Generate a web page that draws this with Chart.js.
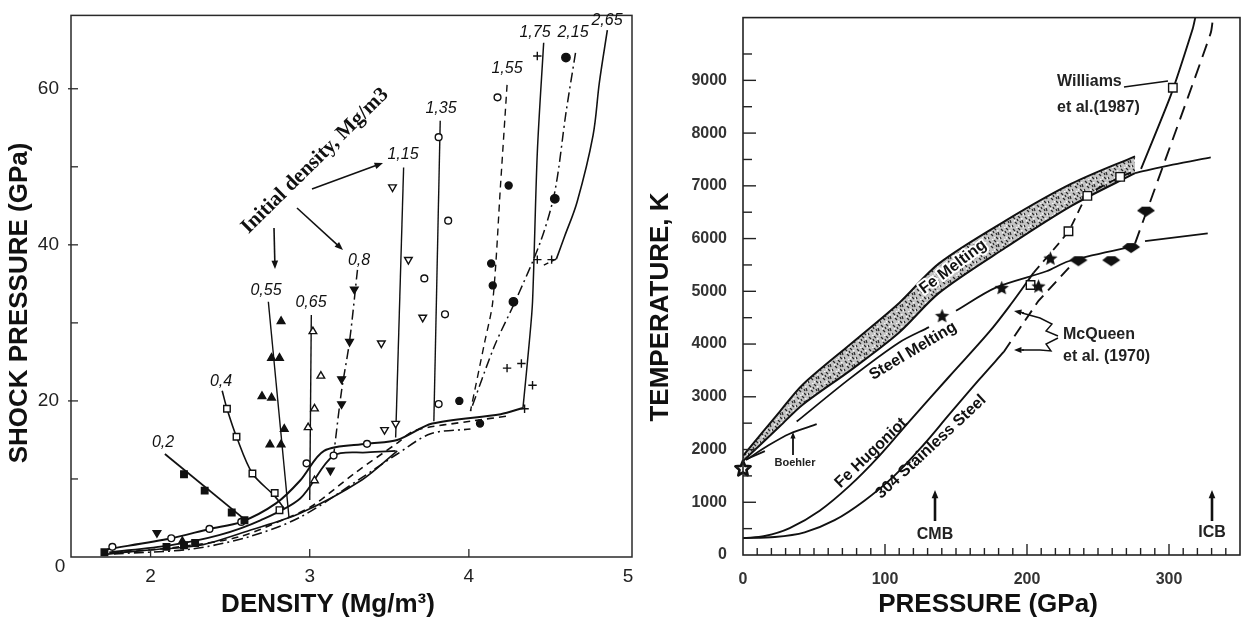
<!DOCTYPE html>
<html>
<head>
<meta charset="utf-8">
<title>Shock pressure / melting curves</title>
<script src="https://cdn.jsdelivr.net/npm/chart.js@4.4.1/dist/chart.umd.min.js"></script>
<style>
  html, body { margin: 0; padding: 0; background: #fff; }
  #wrap { position: relative; width: 1249px; height: 619px; overflow: hidden; }
  #left { position: absolute; left: 0; top: 0; width: 640px; height: 619px; }
  #right { position: absolute; left: 640px; top: 0; width: 609px; height: 619px; }
</style>
</head>
<body>
<div id="wrap">
  <div id="left"><canvas id="c1"></canvas></div>
  <div id="right"><canvas id="c2"></canvas></div>
</div>
<script>
// ---- left panel: porous Hugoniots, density (Mg/m3) vs shock pressure (GPa)
const leftXTicks = [2, 3, 4, 5];
const leftYTicks = [10, 20, 30, 40, 50, 60];

const hug02 = [[2.09, 13.2], [2.61, 4.5]];
const hug04 = [[2.45, 21.3], [2.48, 19.0], [2.54, 15.4], [2.64, 10.7], [2.78, 7.8], [2.84, 6.2]];
const hug055 = [[2.74, 32.7], [2.87, 5.0]];
const hug065 = [[3.01, 31.0], [3.00, 7.3]];
const hug08 = [[3.30, 36.8], [3.25, 27.6], [3.20, 21.3], [3.15, 13.0]];
const hug115 = [[3.59, 49.9], [3.54, 15.3]];
const hug135 = [[3.82, 55.9], [3.78, 17.4]];
const hug155 = [[4.24, 60.5], [4.20, 48.0], [4.15, 32.7], [4.10, 27.6], [4.01, 18.7]];
const hug175 = [[4.47, 65.9], [4.43, 51.8], [4.40, 32.7], [4.38, 27.6], [4.34, 19.1]];
const hug215 = [[4.67, 64.6], [4.61, 56.9], [4.54, 46.8], [4.45, 40.4], [4.29, 32.7], [4.16, 27.0], [4.01, 18.7]];
const hug265 = [[4.87, 67.5], [4.82, 60.8], [4.78, 54.0], [4.68, 45.5], [4.60, 41.0], [4.55, 38.2]];
const hug265step = [[4.55, 38.2], [4.45, 37.2]];
const lowA = [[1.73, 1.0], [2.13, 2.4], [2.37, 3.6], [2.57, 4.5], [2.79, 6.9], [2.94, 9.8], [3.09, 13.6],
              [3.36, 14.5], [3.55, 15.0], [3.77, 17.1], [4.20, 18.3], [4.34, 19.1]];
const lowB = [[1.74, 0.6], [2.12, 1.5], [2.43, 2.8], [2.69, 4.7], [2.94, 7.5], [3.15, 13.0], [3.36, 13.4], [3.54, 13.6]];
const lowC = [[1.76, 0.5], [2.18, 1.3], [2.56, 2.6], [2.87, 5.1], [3.02, 6.6], [3.28, 10.7], [3.55, 14.6],
              [3.66, 16.2], [4.01, 17.4], [4.26, 18.1]];
const lowD = [[1.77, 0.4], [2.25, 1.0], [2.62, 2.6], [2.94, 5.1], [3.33, 10.2], [3.55, 13.2], [3.76, 15.8], [4.01, 16.4]];
const lowE = [[1.70, 0.3], [1.99, 0.9], [2.31, 1.5], [2.62, 3.4], [2.94, 5.6], [3.33, 9.9], [3.55, 13.6]];

const sqFilled = [[2.21, 10.6], [2.34, 8.5], [2.51, 5.7], [2.59, 4.7], [1.71, 0.6], [2.10, 1.3], [2.21, 1.5], [2.28, 1.8]];
const sqOpen = [[2.48, 19.0], [2.54, 15.4], [2.64, 10.7], [2.78, 8.2], [2.81, 6.0]];
const circOpenLow = [[1.76, 1.3], [2.13, 2.4], [2.37, 3.6], [2.57, 4.5], [2.98, 12.0], [3.36, 14.5], [3.15, 13.0]];
const triFilled = [[2.82, 30.2], [2.76, 25.5], [2.81, 25.5], [2.70, 20.6], [2.76, 20.4], [2.84, 16.4], [2.75, 14.4], [2.82, 14.4], [2.20, 2.0]];
const triOpen = [[3.02, 28.9], [3.07, 23.2], [3.03, 19.0], [2.99, 16.6], [3.03, 9.8]];
const triDownFilled = [[3.28, 34.3], [3.25, 27.6], [3.20, 22.8], [3.20, 19.6], [2.04, 3.1], [3.13, 11.1]];
const triDownOpen = [[3.52, 47.4], [3.62, 38.1], [3.45, 27.4], [3.47, 16.3], [3.54, 17.1], [3.71, 30.7]];
const circOpen135 = [[3.81, 53.8], [3.87, 43.1], [3.72, 35.7], [3.85, 31.1], [3.81, 19.6], [4.18, 58.9]];
const dots155 = [[4.25, 47.6], [4.14, 37.6], [4.15, 34.8], [3.94, 20.0], [4.07, 17.1]];
const plus175 = [[4.43, 64.2], [4.24, 24.2], [4.33, 24.8], [4.40, 22.0], [4.35, 19.0], [4.43, 38.1], [4.52, 38.1]];
const dots215 = [[4.61, 64.0], [4.54, 45.9], [4.28, 32.7]];

// ---- right panel: pressure (GPa) vs temperature (K)
const rightXLabels = [0, 100, 200, 300];
const rightYTicks = [0, 500, 1000, 1500, 2000, 2500, 3000, 3500, 4000, 4500, 5000,
                     5500, 6000, 6500, 7000, 7500, 8000, 8500, 9000, 9500];

const feMeltTop = [[0, 1880], [25.9, 2720], [42.0, 3230], [77.1, 4030], [110.0, 4780], [138.1, 5530], [185.0, 6340], [231.3, 7040], [276.1, 7560]];
const feMeltBottom = [[0, 1780], [25.9, 2440], [42.0, 2850], [77.1, 3530], [110.0, 4220], [138.1, 4970], [185.0, 5830], [231.3, 6620], [276.1, 7240]];
const feMeltTail = [[276.1, 7240], [302.7, 7400], [329.4, 7540]];
const steelMeltA = [[2.8, 1820], [15.4, 1970]];
const steelMeltB = [[37.8, 2530], [75.0, 3340], [110.0, 4030], [131.0, 4320]];
const steelMeltC = [[150.0, 4630], [178.0, 5070], [213.7, 5380], [229.2, 5570], [274.7, 5850]];
const steelMeltD = [[283.1, 5950], [327.3, 6100]];
const boehler = [[2.0, 1800], [18.0, 2080], [32.9, 2300], [51.9, 2480]];
const feHug = [[0, 320], [15.4, 360], [32.9, 510], [54.0, 840], [75.0, 1310], [96.0, 1880], [117.0, 2530],
               [145.1, 3380], [173.1, 4220], [188.5, 4750], [204.6, 5350]];
const feHugWilliams = [[204.6, 5350], [229.2, 6140], [242.5, 6810], [265.6, 7170], [276.1, 7280]];
const feLiquid = [[280.3, 7320], [301.3, 8720], [316.7, 9980], [318.5, 10190]];
const ss304 = [[0, 320], [22.4, 340], [43.4, 430], [64.5, 660], [85.5, 1030], [106.5, 1500], [127.5, 2100],
               [145.1, 2660], [166.1, 3320], [183.6, 3850]];
const ss304Dash = [[183.6, 3850], [208.1, 4820], [230.6, 5480]];
const ss304Liquid = [[276.1, 5910], [297.1, 7470], [329.4, 9900], [331.0, 10190]];
const starPts = [[140.2, 4540], [182.2, 5070], [208.1, 5100], [216.5, 5630]];
const bigStar = [[0, 1650]];
const housePts = [[236.2, 5570], [259.3, 5570], [273.3, 5820], [283.8, 6510]];
const williamsSq = [[202.5, 5120], [229.2, 6140], [242.5, 6810], [265.6, 7170], [302.7, 8860]];

const densityLabels = ['0,2', '0,4', '0,55', '0,65', '0,8', '1,15', '1,35', '1,55', '1,75', '2,15', '2,65'];

const INK = '#111';
const FONT = '"Liberation Sans", Arial, Helvetica, sans-serif';

const pts = a => a.map(p => ({x: p[0], y: p[1]}));

function line(d, dash, w, tension) {
    return {data: pts(d), showLine: true, borderColor: INK, borderWidth: w || 1.6,
            borderDash: dash || [], pointRadius: 0, fill: false, tension: tension || 0};
}
function marks(d, style, filled, r, rot) {
    return {data: pts(d), showLine: false, pointStyle: style, pointRadius: r, pointRotation: rot || 0,
            backgroundColor: filled ? INK : '#fff', borderColor: INK, borderWidth: 1.4};
}

function starImg(r, fill, lw) {
    var s = Math.ceil(2 * r + 2 * lw + 4);
    var c = document.createElement('canvas');
    c.width = c.height = s;
    var g = c.getContext('2d');
    g.translate(s / 2, s / 2 + r * 0.1);
    g.beginPath();
    for (var i = 0; i < 10; i++) {
        var ang = -Math.PI / 2 + i * Math.PI / 5;
        var rr = i % 2 ? r * 0.45 : r;
        g.lineTo(rr * Math.cos(ang), rr * Math.sin(ang));
    }
    g.closePath();
    g.fillStyle = fill;
    g.fill();
    if (lw) { g.lineWidth = lw; g.strokeStyle = INK; g.lineJoin = 'round'; g.stroke(); }
    return c;
}
function houseImg() {
    var c = document.createElement('canvas');
    c.width = 20; c.height = 12;
    var g = c.getContext('2d');
    g.beginPath();
    g.moveTo(1, 5); g.lineTo(6, 1); g.lineTo(14, 1); g.lineTo(19, 5); g.lineTo(10, 11);
    g.closePath();
    g.fillStyle = INK;
    g.fill();
    return c;
}
function speckle() {
    var c = document.createElement('canvas');
    c.width = 12; c.height = 12;
    var g = c.getContext('2d');
    g.fillStyle = '#c4c4c4';
    g.fillRect(0, 0, 12, 12);
    g.strokeStyle = '#2a2a2a';
    g.lineWidth = 1.2;
    [[1, 1, 3, 3], [6, 0, 8, 2], [10, 4, 11, 7], [3, 6, 5, 8], [8, 9, 10, 11], [0, 9, 1, 11], [5, 3, 6, 5], [8, 5, 9, 7]].forEach(function (m) {
        g.beginPath(); g.moveTo(m[0], m[1]); g.lineTo(m[2], m[3]); g.stroke();
    });
    g.fillStyle = '#f4f4f4';
    [[2, 4], [9, 2], [6, 9], [11, 10], [4, 11]].forEach(function (m) { g.fillRect(m[0], m[1], 1.5, 1.5); });
    return g.createPattern(c, 'repeat');
}

function seg(ctx, x1, y1, x2, y2) {
    ctx.beginPath(); ctx.moveTo(x1, y1); ctx.lineTo(x2, y2); ctx.stroke();
}
function arrow(ctx, x1, y1, x2, y2, head, lw) {
    var ang = Math.atan2(y2 - y1, x2 - x1);
    ctx.lineWidth = lw;
    seg(ctx, x1, y1, x2 - Math.cos(ang) * head * 0.6, y2 - Math.sin(ang) * head * 0.6);
    ctx.beginPath();
    ctx.moveTo(x2, y2);
    ctx.lineTo(x2 - head * Math.cos(ang - 0.38), y2 - head * Math.sin(ang - 0.38));
    ctx.lineTo(x2 - head * Math.cos(ang + 0.38), y2 - head * Math.sin(ang + 0.38));
    ctx.closePath();
    ctx.fill();
}
function rotText(ctx, txt, x, y, deg) {
    ctx.save(); ctx.translate(x, y); ctx.rotate(deg * Math.PI / 180); ctx.fillText(txt, 0, 0); ctx.restore();
}
function useTicks(list) {
    return function (s) { s.ticks = list.map(function (v) { return {value: v}; }); };
}

// label anchors in page pixels for the density captions
const densityAt = [[163, 443], [221, 382], [266, 291], [311, 303], [359, 261], [403, 155], [441, 109], [507, 69], [535, 33], [573, 33], [607, 21]];

const leftDecor = {
    id: 'leftDecor',
    afterDraw: function (chart) {
        var ctx = chart.ctx, a = chart.chartArea, x = chart.scales.x, y = chart.scales.y;
        ctx.save();
        ctx.strokeStyle = '#2a2a2a';
        ctx.lineWidth = 1.5;
        ctx.strokeRect(a.left, a.top, a.right - a.left, a.bottom - a.top);
        ctx.lineWidth = 1.3;
        y.ticks.forEach(function (t) {
            var p = y.getPixelForValue(t.value);
            var major = t.value % 20 === 0;
            seg(ctx, a.left - (major ? 3 : 0), p, a.left + 7, p);
        });
        x.ticks.forEach(function (t) {
            var p = x.getPixelForValue(t.value);
            if (p > a.right - 6) return;
            seg(ctx, p, a.bottom, p, a.bottom - 8);
        });
        ctx.fillStyle = INK;
        ctx.textAlign = 'center';
        ctx.textBaseline = 'middle';
        ctx.font = 'bold 26px ' + FONT;
        rotText(ctx, 'SHOCK PRESSURE (GPa)', 20, 303, -90);
        ctx.fillText('DENSITY (Mg/m\u00b3)', 328, 605);
        ctx.font = '19px ' + FONT;
        ctx.fillStyle = '#222';
        ctx.fillText('0', 60, 567);

        ctx.fillStyle = INK;
        ctx.font = 'italic 16px ' + FONT;
        densityLabels.forEach(function (s, i) {
            ctx.fillText(s, densityAt[i][0], densityAt[i][1]);
        });
        ctx.font = 'bold 21px "Liberation Serif", "Times New Roman", serif';
        rotText(ctx, 'Initial density, Mg/m3', 315, 161, -44.6);
        ctx.strokeStyle = INK;
        arrow(ctx, 274, 228, 275, 269, 9, 1.6);
        arrow(ctx, 297, 208, 343, 250, 9, 1.6);
        arrow(ctx, 312, 189, 383, 163, 9, 1.6);
        ctx.restore();
    }
};

const rightDecor = {
    id: 'rightDecor',
    afterDraw: function (chart) {
        var ctx = chart.ctx, a = chart.chartArea, x = chart.scales.x, y = chart.scales.y;
        var ox = 640;
        ctx.save();
        ctx.strokeStyle = '#222';
        ctx.lineWidth = 1.6;
        ctx.strokeRect(a.left, a.top, a.right - a.left, a.bottom - a.top);
        ctx.lineWidth = 1.4;
        y.ticks.forEach(function (t) {
            if (t.value <= 0) return;
            var p = y.getPixelForValue(t.value);
            seg(ctx, a.left, p, a.left + (t.value % 1000 === 0 ? 13 : 9), p);
        });
        x.ticks.forEach(function (t) {
            if (t.value <= 0 || t.value >= 350) return;
            var p = x.getPixelForValue(t.value);
            seg(ctx, p, a.bottom, p, a.bottom - (t.value % 100 === 0 ? 11 : 7));
        });

        ctx.fillStyle = INK;
        ctx.textAlign = 'center';
        ctx.textBaseline = 'middle';
        ctx.font = 'bold 26px ' + FONT;
        rotText(ctx, 'TEMPERATURE, K', 661 - ox, 307, -90);
        ctx.fillText('PRESSURE (GPa)', 988 - ox, 605);

        // curve captions
        ctx.font = 'bold 16px ' + FONT;
        ctx.save();
        ctx.translate(953 - ox, 267);
        ctx.rotate(-37 * Math.PI / 180);
        ctx.lineWidth = 4;
        ctx.strokeStyle = '#fff';
        ctx.lineJoin = 'round';
        ctx.strokeText('Fe Melting', 0, 0);
        ctx.fillText('Fe Melting', 0, 0);
        ctx.restore();
        rotText(ctx, 'Steel Melting', 913 - ox, 351, -31);
        rotText(ctx, 'Fe Hugoniot', 871 - ox, 453, -44);
        rotText(ctx, '304 Stainless Steel', 931 - ox, 447, -43);

        ctx.fillStyle = '#222';
        ctx.textAlign = 'left';
        ctx.font = 'bold 16px ' + FONT;
        ctx.fillText('Williams', 1057 - ox, 82);
        ctx.fillText('et al.(1987)', 1057 - ox, 108);
        ctx.fillText('McQueen', 1063 - ox, 335);
        ctx.fillText('et al. (1970)', 1063 - ox, 357);
        ctx.textAlign = 'center';
        ctx.fillText('CMB', 935 - ox, 535);
        ctx.fillText('ICB', 1212 - ox, 533);
        ctx.font = 'bold 11px ' + FONT;
        ctx.fillText('Boehler', 795 - ox, 463);

        ctx.strokeStyle = INK;
        ctx.fillStyle = INK;
        arrow(ctx, 935 - ox, 521, 935 - ox, 490, 9, 2.6);
        arrow(ctx, 1212 - ox, 521, 1212 - ox, 490, 9, 2.6);
        arrow(ctx, 793 - ox, 455, 793 - ox, 432, 7, 1.8);

        // leaders
        ctx.lineWidth = 1.4;
        seg(ctx, 1124 - ox, 87, 1168 - ox, 81);
        ctx.beginPath();
        ctx.moveTo(1058 - ox, 336);
        ctx.lineTo(1046 - ox, 331);
        ctx.lineTo(1052 - ox, 324);
        ctx.lineTo(1040 - ox, 318);
        ctx.lineTo(1022 - ox, 313);
        ctx.stroke();
        ctx.beginPath();
        ctx.moveTo(1058 - ox, 338);
        ctx.lineTo(1046 - ox, 344);
        ctx.lineTo(1051 - ox, 351);
        ctx.lineTo(1040 - ox, 350);
        ctx.lineTo(1022 - ox, 350);
        ctx.stroke();
        arrow(ctx, 1024 - ox, 313, 1014 - ox, 311, 8, 1.4);
        arrow(ctx, 1024 - ox, 350, 1014 - ox, 350, 8, 1.4);
        ctx.restore();
    }
};

const leftSets = [
    marks(sqFilled, 'rect', true, 4.6),
    marks(sqOpen, 'rect', false, 4.6),
    marks(circOpenLow, 'circle', false, 3.4),
    marks(triFilled, 'triangle', true, 4.4),
    marks(triOpen, 'triangle', false, 4.4),
    marks(triDownFilled, 'triangle', true, 4.4, 180),
    marks(triDownOpen, 'triangle', false, 4.4, 180),
    marks(circOpen135, 'circle', false, 3.4),
    marks(dots155, 'circle', true, 3.5),
    marks(plus175, 'cross', false, 4.2),
    marks(dots215, 'circle', true, 4.2),
    line(hug02, null, 1.8),
    line(hug04, null, 1.6, 0.3),
    line(hug055, null, 1.4),
    line(hug065, null, 1.4),
    line(hug08, [10, 4, 2, 4], 1.5, 0.3),
    line(hug115, null, 1.4),
    line(hug135, null, 1.4),
    line(hug155, [7, 5], 1.4, 0.3),
    line(hug175, null, 1.5, 0.3),
    line(hug215, [10, 4, 2, 4], 1.5, 0.3),
    line(hug265, null, 1.6, 0.35),
    line(hug265step, [5, 4], 1.4),
    line(lowA, null, 2.0, 0.3),
    line(lowB, null, 1.8, 0.3),
    line(lowC, [7, 5], 1.6, 0.3),
    line(lowD, [10, 4, 2, 4], 1.6, 0.3),
    line(lowE, null, 1.6, 0.3)
];

const rightSets = [
    {data: pts(bigStar), showLine: false, pointStyle: starImg(8, '#fff', 2.6), clip: false, pointRadius: 8},
    {data: pts(starPts), showLine: false, pointStyle: starImg(7.5, INK, 0), pointRadius: 7},
    {data: pts(housePts), showLine: false, pointStyle: houseImg(), pointRadius: 8},
    marks(williamsSq, 'rect', false, 6),
    Object.assign(line(feMeltTop, null, 2.0, 0.3), {fill: '+1', backgroundColor: speckle()}),
    line(feMeltBottom, null, 2.0, 0.3),
    line(feMeltTail, null, 1.8, 0.3),
    line(steelMeltA, null, 1.8),
    line(steelMeltB, null, 1.8, 0.3),
    line(steelMeltC, null, 1.8, 0.3),
    line(steelMeltD, null, 1.8),
    line(boehler, null, 1.8, 0.3),
    line(feHug, null, 1.9, 0.35),
    line(feHugWilliams, [9, 6], 1.8, 0.2),
    line(feLiquid, null, 1.9, 0.2),
    line(ss304, null, 1.9, 0.35),
    line(ss304Dash, [12, 7], 1.9),
    line(ss304Liquid, [14, 8], 1.9, 0.2)
];

// minor pressure ticks every 10 GPa between the labelled ones
const rightXTicks = [];
for (var t = 0; t <= 350; t += 10) rightXTicks.push(t);

const baseOpts = {
    responsive: true,
    maintainAspectRatio: false,
    animation: false,
    devicePixelRatio: 1,
    events: [],
    plugins: {legend: {display: false}, tooltip: {enabled: false}, filler: {drawTime: 'beforeDatasetsDraw'}}
};

new Chart(document.getElementById('c1'), {
    type: 'scatter',
    data: {datasets: leftSets},
    options: Object.assign({}, baseOpts, {
        layout: {padding: {top: 12, right: 8, left: 0, bottom: 0}},
        scales: {
            x: {
                type: 'linear', min: 1.5, max: 5.025,
                afterBuildTicks: useTicks(leftXTicks),
                afterFit: function (s) { s.height = 62; },
                grid: {display: false}, border: {display: false},
                ticks: {autoSkip: false, maxRotation: 0, padding: 0,
                        color: '#222', font: {family: FONT, size: 19}}
            },
            y: {
                type: 'linear', min: 0, max: 69.4,
                afterBuildTicks: useTicks(leftYTicks),
                afterFit: function (s) { s.width = 71; },
                grid: {display: false}, border: {display: false},
                ticks: {autoSkip: false, padding: 4,
                        color: '#222', font: {family: FONT, size: 19},
                        callback: function (v) { return v % 20 === 0 ? String(v) : ''; }}
            }
        }
    }),
    plugins: [leftDecor]
});

new Chart(document.getElementById('c2'), {
    type: 'scatter',
    data: {datasets: rightSets},
    options: Object.assign({}, baseOpts, {
        layout: {padding: {top: 12, right: 7, left: 0, bottom: 0}},
        scales: {
            x: {
                type: 'linear', min: 0, max: 350,
                afterBuildTicks: useTicks(rightXTicks),
                afterFit: function (s) { s.height = 64; },
                grid: {display: false}, border: {display: false},
                ticks: {autoSkip: false, maxRotation: 0, padding: 7,
                        color: '#333', font: {family: FONT, size: 16, weight: 'bold'},
                        callback: function (v) { return rightXLabels.indexOf(v) >= 0 ? String(v) : ''; }}
            },
            y: {
                type: 'linear', min: 0, max: 10190,
                afterBuildTicks: useTicks(rightYTicks),
                afterFit: function (s) { s.width = 103; },
                grid: {display: false}, border: {display: false},
                ticks: {autoSkip: false, padding: 8,
                        color: '#333', font: {family: FONT, size: 16, weight: 'bold'},
                        callback: function (v) { return v % 1000 === 0 ? String(v) : ''; }}
            }
        }
    }),
    plugins: [rightDecor]
});
</script>
</body>
</html>
